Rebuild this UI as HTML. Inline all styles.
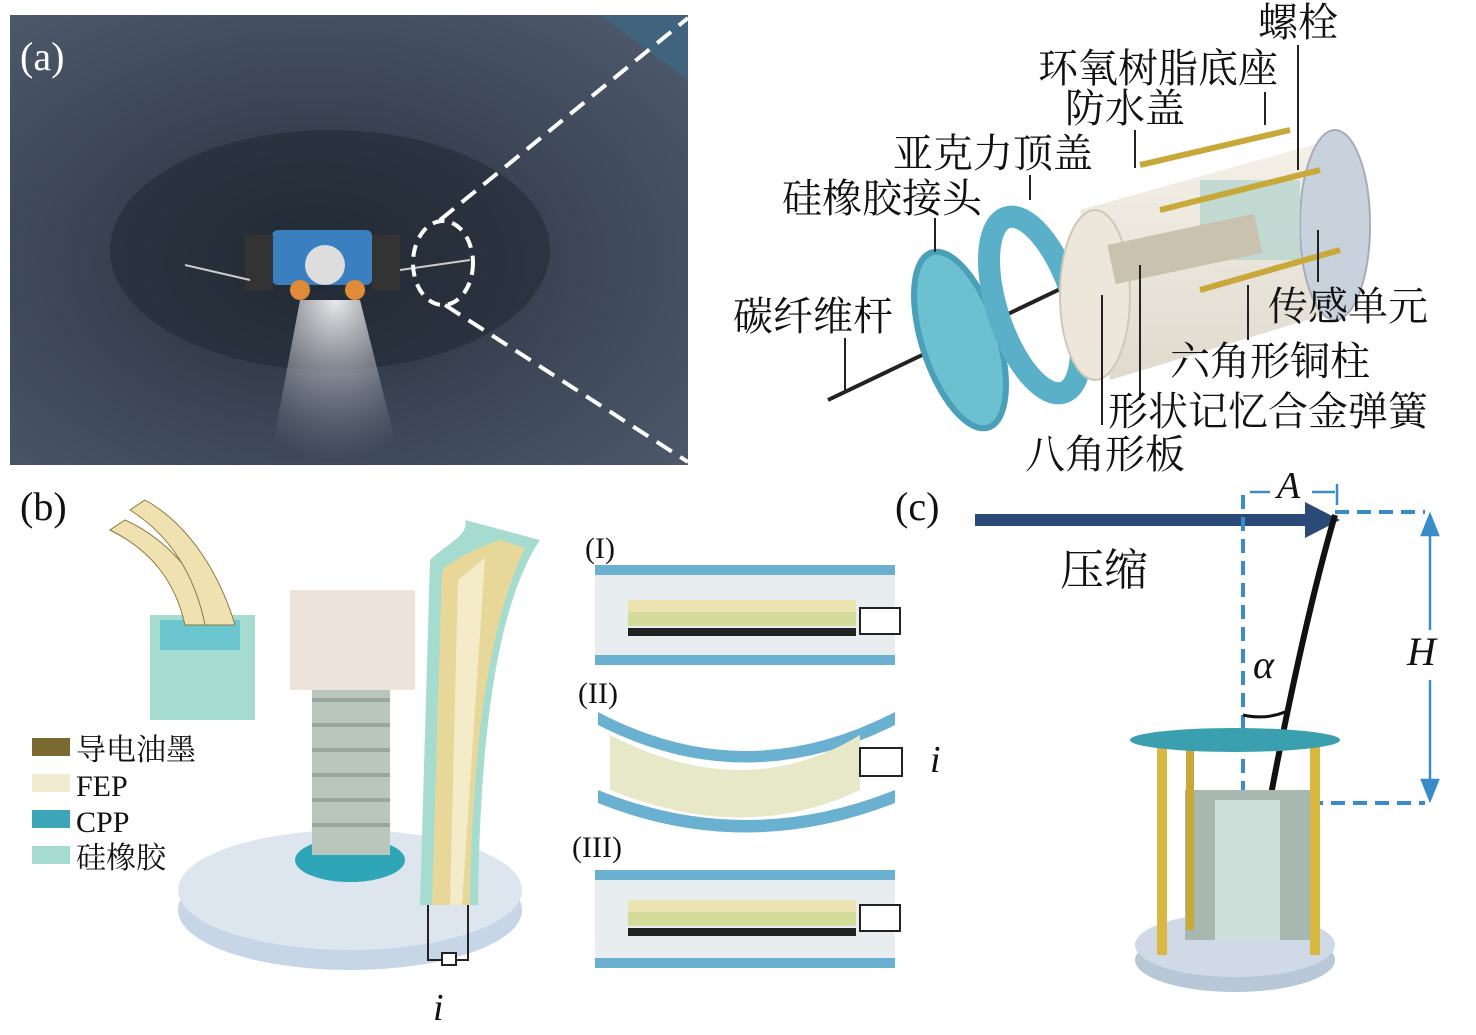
<!DOCTYPE html>
<html><head><meta charset="utf-8"><style>
html,body{margin:0;padding:0;background:#fff;}
svg{display:block;}
.t{font-family:"Liberation Serif","Noto Serif CJK SC",serif;fill:#111;}
</style></head><body>
<svg width="1476" height="1035" viewBox="0 0 1476 1035" xmlns="http://www.w3.org/2000/svg">
<defs>
<radialGradient id="rock" cx="0.45" cy="0.55" r="0.7">
<stop offset="0" stop-color="#262d38"/><stop offset="0.5" stop-color="#3a4454"/><stop offset="1" stop-color="#4c586a"/>
</radialGradient>
<radialGradient id="light" cx="0.5" cy="0" r="1">
<stop offset="0" stop-color="#fff" stop-opacity="0.9"/><stop offset="1" stop-color="#aab" stop-opacity="0"/>
</radialGradient>
<linearGradient id="cyl" x1="0" y1="0" x2="0" y2="1">
<stop offset="0" stop-color="#f3efe6"/><stop offset="1" stop-color="#dcd6c8"/>
</linearGradient>
</defs>
<!-- (a) photo -->
<rect x="10" y="15" width="678" height="450" fill="url(#rock)"/>
<path d="M600 15 L688 15 L688 80 Z" fill="#3a6a8a" opacity="0.6"/>
<ellipse cx="330" cy="250" rx="220" ry="120" fill="#1e2530" opacity="0.5"/>
<path d="M300 300 L360 300 L400 460 L270 460 Z" fill="url(#light)"/>
<rect x="272" y="230" width="100" height="55" rx="6" fill="#3a7fc0"/>
<circle cx="325" cy="265" r="20" fill="#ddd"/>
<circle cx="300" cy="290" r="10" fill="#e08a3a"/><circle cx="355" cy="290" r="10" fill="#e08a3a"/>
<rect x="245" y="235" width="28" height="55" fill="#333"/><rect x="372" y="235" width="28" height="55" fill="#333"/>
<line x1="185" y1="265" x2="250" y2="280" stroke="#ccc" stroke-width="2"/>
<line x1="400" y1="270" x2="470" y2="260" stroke="#ccc" stroke-width="2"/>
<text class="t" x="20" y="70" font-size="40" style="fill:#fff">(a)</text>
<ellipse cx="443" cy="263" rx="30" ry="42" fill="none" stroke="#fff" stroke-width="4" stroke-dasharray="12 8"/>
<line x1="440" y1="220" x2="688" y2="18" stroke="#fff" stroke-width="4" stroke-dasharray="18 10"/>
<line x1="445" y1="305" x2="688" y2="462" stroke="#fff" stroke-width="4" stroke-dasharray="18 10"/>

<!-- exploded view -->
<line x1="828" y1="400" x2="1100" y2="270" stroke="#222" stroke-width="4"/>
<ellipse cx="960" cy="340" rx="38" ry="92" fill="#6cc0d0" stroke="#4aa0b8" stroke-width="6" transform="rotate(-18 960 340)"/>
<ellipse cx="1035" cy="305" rx="38" ry="92" fill="none" stroke="#5ab0c8" stroke-width="22" transform="rotate(-18 1035 305)"/>
<path d="M1080 210 L1330 140 L1340 310 L1110 380 Z" fill="url(#cyl)" opacity="0.9"/>
<ellipse cx="1095" cy="295" rx="35" ry="85" fill="#ece7da" stroke="#cfc8b6" stroke-width="2"/>
<ellipse cx="1335" cy="225" rx="35" ry="95" fill="#c8d2dc" stroke="#aab" stroke-width="2"/>
<rect x="1200" y="180" width="100" height="80" fill="#b8d6d0" opacity="0.8"/>
<rect x="1110" y="230" width="150" height="40" fill="#c9c2ae" transform="rotate(-12 1180 250)"/>
<line x1="1140" y1="165" x2="1290" y2="130" stroke="#c8a838" stroke-width="6"/>
<line x1="1200" y1="290" x2="1340" y2="250" stroke="#c8a838" stroke-width="6"/>
<line x1="1160" y1="210" x2="1320" y2="170" stroke="#c8a838" stroke-width="6"/>
<g stroke="#222" stroke-width="2" fill="none">
<line x1="1298" y1="45" x2="1298" y2="170"/>
<line x1="1265" y1="92" x2="1265" y2="125"/>
<line x1="1135" y1="130" x2="1135" y2="168"/>
<line x1="1030" y1="175" x2="1030" y2="200"/>
<line x1="935" y1="218" x2="935" y2="252"/>
<line x1="845" y1="338" x2="845" y2="390"/>
<line x1="1318" y1="230" x2="1318" y2="282"/>
<line x1="1248" y1="285" x2="1248" y2="340"/>
<line x1="1140" y1="265" x2="1140" y2="400"/>
<line x1="1102" y1="295" x2="1102" y2="425"/>
</g>
<g class="t" font-size="40">
<text x="1258" y="36">螺栓</text>
<text x="1038" y="82">环氧树脂底座</text>
<text x="1065" y="122">防水盖</text>
<text x="893" y="167">亚克力顶盖</text>
<text x="782" y="212">硅橡胶接头</text>
<text x="733" y="330">碳纤维杆</text>
<text x="1268" y="320">传感单元</text>
<text x="1170" y="375">六角形铜柱</text>
<text x="1108" y="425">形状记忆合金弹簧</text>
<text x="1025" y="468">八角形板</text>
</g>

<!-- (b) -->
<text class="t" x="20" y="520" font-size="40">(b)</text>
<rect x="150" y="615" width="105" height="105" fill="#a6dcd0"/>
<rect x="160" y="620" width="80" height="30" fill="#6cc6d0"/>
<path d="M185 625 C175 580 150 550 110 530 L125 520 C170 540 200 580 220 625 Z" fill="#efe2b0" stroke="#8a7a40"/>
<path d="M205 625 C195 575 170 535 130 510 L145 500 C190 525 220 575 235 625 Z" fill="#efe2b0" stroke="#8a7a40"/>
<g class="t" font-size="30">
<rect x="32" y="738" width="38" height="18" fill="#7a6a30"/><text x="76" y="760">导电油墨</text>
<rect x="32" y="774" width="38" height="18" fill="#f0ead0"/><text x="76" y="796">FEP</text>
<rect x="32" y="810" width="38" height="18" fill="#3aa6b8"/><text x="76" y="832">CPP</text>
<rect x="32" y="846" width="38" height="18" fill="#a6dcd0"/><text x="76" y="868">硅橡胶</text>
</g>
<ellipse cx="350" cy="910" rx="172" ry="60" fill="#c6d6e6"/>
<ellipse cx="350" cy="890" rx="172" ry="60" fill="#dde6ef"/>
<ellipse cx="350" cy="860" rx="55" ry="22" fill="#2ea6b8"/>
<rect x="312" y="680" width="78" height="175" fill="#b8c6bc"/>
<g stroke="#98a69c" stroke-width="4"><line x1="312" y1="700" x2="390" y2="700"/><line x1="312" y1="725" x2="390" y2="725"/><line x1="312" y1="750" x2="390" y2="750"/><line x1="312" y1="775" x2="390" y2="775"/><line x1="312" y1="800" x2="390" y2="800"/><line x1="312" y1="825" x2="390" y2="825"/></g>
<rect x="290" y="590" width="125" height="100" fill="#ece4da"/>
<path d="M420 905 L430 560 C445 545 470 535 465 520 L540 540 C500 600 480 720 478 905 Z" fill="#a6dcd0"/>
<path d="M432 905 L442 570 C460 555 485 545 500 540 L525 548 C495 610 472 720 470 905 Z" fill="#e7d89a"/>
<path d="M450 905 L458 580 L485 558 L462 905 Z" fill="#f4ecc8"/>
<path d="M428 905 L428 960 L468 960 L468 905" fill="none" stroke="#222" stroke-width="2"/>
<rect x="442" y="953" width="14" height="12" fill="#fff" stroke="#222" stroke-width="2"/>
<text class="t" x="433" y="1020" font-size="38" font-style="italic">i</text>

<!-- I II III -->
<g class="t" font-size="30"><text x="585" y="558">(I)</text><text x="578" y="703">(II)</text><text x="572" y="857">(III)</text></g>
<g>
<rect x="595" y="565" width="300" height="10" fill="#6ab0d0"/><rect x="595" y="655" width="300" height="10" fill="#6ab0d0"/>
<rect x="595" y="575" width="300" height="80" fill="#e8eef0"/>
<rect x="628" y="600" width="228" height="12" fill="#ece4b0"/><rect x="628" y="612" width="228" height="14" fill="#d4dc9c"/><rect x="628" y="628" width="228" height="8" fill="#222"/>
<rect x="860" y="608" width="40" height="26" fill="#fff" stroke="#222" stroke-width="2"/>
<rect x="595" y="870" width="300" height="10" fill="#6ab0d0"/><rect x="595" y="958" width="300" height="10" fill="#6ab0d0"/>
<rect x="595" y="880" width="300" height="78" fill="#e8eef0"/>
<rect x="628" y="900" width="228" height="12" fill="#ece4b0"/><rect x="628" y="912" width="228" height="14" fill="#d4dc9c"/><rect x="628" y="928" width="228" height="8" fill="#222"/>
<rect x="860" y="905" width="40" height="26" fill="#fff" stroke="#222" stroke-width="2"/>
<path d="M598 712 Q745 790 895 712 L895 725 Q745 800 598 725 Z" fill="#6ab0d0"/>
<path d="M598 790 Q745 850 895 790 L895 803 Q745 862 598 803 Z" fill="#6ab0d0"/>
<path d="M610 735 Q745 805 860 735 L860 790 Q745 845 610 790 Z" fill="#e7e8c8"/>
<rect x="860" y="748" width="42" height="28" fill="#fff" stroke="#222" stroke-width="2"/>
<text class="t" x="930" y="772" font-size="38" font-style="italic">i</text>
</g>

<!-- (c) -->
<text class="t" x="895" y="520" font-size="40">(c)</text>
<line x1="975" y1="520" x2="1310" y2="520" stroke="#2a4a78" stroke-width="12"/>
<polygon points="1305,502 1340,520 1305,538" fill="#2a4a78"/>
<text class="t" x="1060" y="585" font-size="44">压缩</text>
<g stroke="#3a8cc8" stroke-width="4" stroke-dasharray="14 8" fill="none">
<line x1="1243" y1="495" x2="1243" y2="803"/>
<path d="M1335 512 L1425 512 M1243 803 L1425 803"/>
</g>
<g stroke="#3a8cc8" stroke-width="2.5" fill="#3a8cc8">
<line x1="1250" y1="492" x2="1270" y2="492"/><line x1="1312" y1="492" x2="1335" y2="492"/>
<line x1="1337" y1="484" x2="1337" y2="505"/>
<line x1="1430" y1="520" x2="1430" y2="630"/><line x1="1430" y1="680" x2="1430" y2="795"/>
<polygon points="1422,535 1430,515 1438,535"/><polygon points="1422,780 1430,800 1438,780"/>
</g>
<text class="t" x="1277" y="498" font-size="38" font-style="italic">A</text>
<text class="t" x="1407" y="665" font-size="40" font-style="italic">H</text>
<text class="t" x="1253" y="678" font-size="40" font-style="italic">α</text>
<path d="M1335 515 C1310 600 1285 720 1270 800" stroke="#111" stroke-width="6" fill="none"/>
<path d="M1243 715 Q1265 720 1285 712" stroke="#111" stroke-width="3" fill="none"/>
<ellipse cx="1235" cy="960" rx="100" ry="32" fill="#b8c8d8"/>
<ellipse cx="1235" cy="945" rx="100" ry="32" fill="#cfdae6"/>
<rect x="1185" y="790" width="125" height="150" fill="#a8b8b0"/>
<rect x="1215" y="800" width="65" height="140" fill="#cfe0da"/>
<line x1="1162" y1="745" x2="1162" y2="955" stroke="#d8b840" stroke-width="10"/>
<line x1="1315" y1="745" x2="1315" y2="955" stroke="#d8b840" stroke-width="10"/>
<line x1="1190" y1="745" x2="1190" y2="930" stroke="#c8a838" stroke-width="8"/>
<ellipse cx="1235" cy="740" rx="105" ry="12" fill="#3aa0b0"/>
</svg>
</body></html>
